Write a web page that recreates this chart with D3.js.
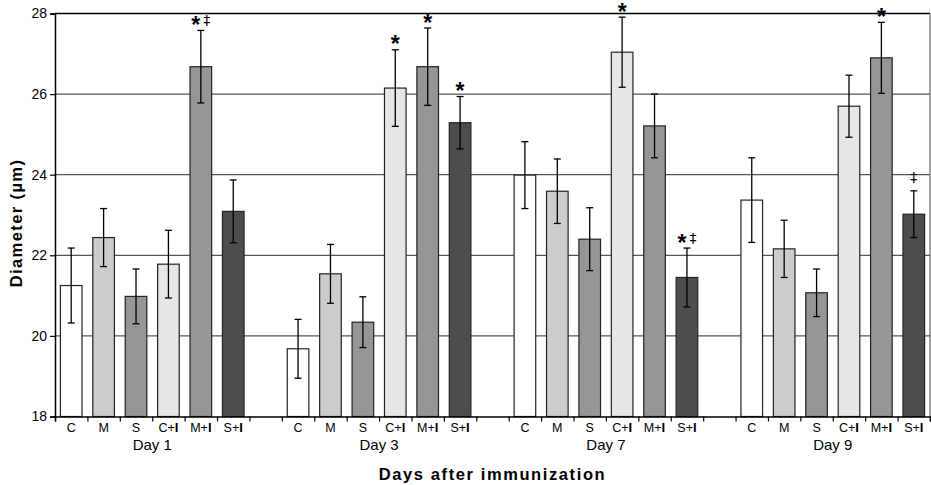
<!DOCTYPE html>
<html>
<head>
<meta charset="utf-8">
<script src="https://cdn.jsdelivr.net/npm/d3@7/dist/d3.min.js"></script>
<style>
body { margin: 0; background: #fff; }
text { font-family: "Liberation Sans", Arial, sans-serif; }
</style>
</head>
<body>
<div id="chart"></div>
<script>
// values
var days = ["Day 1", "Day 3", "Day 7", "Day 9"]
var groups = ["C", "M", "S", "C+I", "M+I", "S+I"]
var groupFill = ["#ffffff", "#cccccc", "#969696", "#e6e6e6", "#969696", "#4d4d4d"]

var meanDay1 = [21.25, 22.44, 20.98, 21.78, 26.68, 23.09]
var meanDay3 = [19.68, 21.54, 20.34, 26.15, 26.68, 25.29]
var meanDay7 = [23.99, 23.59, 22.40, 27.04, 25.21, 21.45]
var meanDay9 = [23.37, 22.16, 21.07, 25.70, 26.90, 23.02]

var errDay1 = [0.93, 0.72, 0.68, 0.84, 0.90, 0.78]
var errDay3 = [0.73, 0.73, 0.63, 0.95, 0.96, 0.65]
var errDay7 = [0.83, 0.80, 0.78, 0.87, 0.79, 0.73]
var errDay9 = [1.05, 0.71, 0.59, 0.77, 0.88, 0.58]

var yTicks = [18, 20, 22, 24, 26, 28]

// significance marks: [day, group, star, dagger]
var marks = [
    ["Day 1", "M+I", true, true],
    ["Day 3", "C+I", true, false],
    ["Day 3", "M+I", true, false],
    ["Day 3", "S+I", true, false],
    ["Day 7", "C+I", true, false],
    ["Day 7", "S+I", true, true],
    ["Day 9", "M+I", true, false],
    ["Day 9", "S+I", false, true]
]

var means = [meanDay1, meanDay3, meanDay7, meanDay9]
var errs = [errDay1, errDay3, errDay7, errDay9]

var W = 931, H = 485
var margin = {top: 13.5, right: 1, bottom: 68.5, left: 55}
var width = W - margin.left - margin.right
var height = H - margin.top - margin.bottom

var svg = d3.select("#chart").append("svg")
    .attr("width", W)
    .attr("height", H)

svg.append("rect").attr("width", W).attr("height", H).style("fill", "white")

var g = svg.append("g")
    .attr("transform", "translate(" + margin.left + "," + margin.top + ")")

// 6 bars per day + an empty slot between days
var nSlots = days.length * 7 - 1
var x = d3.scaleBand().domain(d3.range(nSlots)).range([0, width]).padding(0)
var xEdge = d3.scaleLinear().domain([0, nSlots]).range([0, width])
var y = d3.scaleLinear().domain([18, 28]).range([height, 0])

var barW = x.bandwidth() / 1.5

var data = []
days.forEach(function(d, i) {
    groups.forEach(function(grp, j) {
        data.push({day: d, group: grp, slot: i * 7 + j, mean: means[i][j], err: errs[i][j], fill: groupFill[j]})
    })
})

// gridlines
g.append("g").selectAll("line")
    .data(yTicks.filter(function(t) { return t > 18 && t < 28 }))
    .enter().append("line")
    .attr("x1", 0).attr("x2", width)
    .attr("y1", function(d) { return y(d) }).attr("y2", function(d) { return y(d) })
    .style("stroke", "#555").style("stroke-width", 1.2)

// frame: top and right
g.append("line").attr("x1", 0).attr("x2", width).attr("y1", y(28)).attr("y2", y(28))
    .style("stroke", "#000").style("stroke-width", 1.5)
g.append("line").attr("x1", width).attr("x2", width).attr("y1", y(28)).attr("y2", y(18))
    .style("stroke", "#666").style("stroke-width", 1.2)

// bars
g.append("g").selectAll("rect")
    .data(data)
    .enter().append("rect")
    .attr("x", function(d) { return x(d.slot) + (x.bandwidth() - barW) / 2 })
    .attr("y", function(d) { return y(d.mean) })
    .attr("width", barW)
    .attr("height", function(d) { return y(18) - y(d.mean) })
    .style("fill", function(d) { return d.fill })
    .style("stroke", "#222")
    .style("stroke-width", 1.2)

// error bars
var eb = g.append("g").selectAll("g")
    .data(data)
    .enter().append("g")
    .attr("transform", function(d) { return "translate(" + (x(d.slot) + x.bandwidth() / 2) + ",0)" })
eb.append("line")
    .attr("y1", function(d) { return y(d.mean - d.err) })
    .attr("y2", function(d) { return y(d.mean + d.err) })
    .style("stroke", "#000").style("stroke-width", 1.3)
eb.append("line")
    .attr("x1", -3.5).attr("x2", 3.5)
    .attr("y1", function(d) { return y(d.mean + d.err) })
    .attr("y2", function(d) { return y(d.mean + d.err) })
    .style("stroke", "#000").style("stroke-width", 1.3)
eb.append("line")
    .attr("x1", -3.5).attr("x2", 3.5)
    .attr("y1", function(d) { return y(d.mean - d.err) })
    .attr("y2", function(d) { return y(d.mean - d.err) })
    .style("stroke", "#000").style("stroke-width", 1.3)

// significance marks
marks.forEach(function(m) {
    var d = data.find(function(e) { return e.day == m[0] && e.group == m[1] })
    var top = y(d.mean + d.err)
    var t = g.append("text")
        .attr("x", x(d.slot) + x.bandwidth() / 2)
        .attr("y", top + 2.5)
        .attr("text-anchor", "middle")
        .style("fill", "#000")
    if (m[2]) {
        t.append("tspan").text("*")
            .style("font-size", "23px").style("font-weight", "bold").style("fill", "#000")
    }
    if (m[3]) {
        t.append("tspan")
            .attr("dx", m[2] ? 3 : 0)
            .attr("dy", m[2] ? -8 : -11)
            .text("\u2021")
            .style("font-size", "14px").style("fill", "#000")
            .style("font-family", "DejaVu Sans, sans-serif")
    }
})

// y axis
var yAxis = g.append("g")
    .call(d3.axisLeft(y).tickValues(yTicks).tickSize(5).tickPadding(3).tickFormat(d3.format("d")))
yAxis.select(".domain").style("stroke", "#000").style("stroke-width", 1.5)
yAxis.selectAll(".tick line").style("stroke", "#000").style("stroke-width", 1.2)
yAxis.selectAll("text").style("font-size", "14px").style("font-family", "Liberation Sans, Arial, sans-serif").style("fill", "#000")

// x axis: ticks on slot boundaries
var xAxis = g.append("g")
    .attr("transform", "translate(0," + height + ")")
    .call(d3.axisBottom(xEdge).tickValues(d3.range(nSlots + 1)).tickSize(5).tickFormat(""))
xAxis.select(".domain").style("stroke", "#000").style("stroke-width", 1.5)
xAxis.selectAll(".tick line").style("stroke", "#000").style("stroke-width", 1.2)

// group labels under each bar (the "I" prints heavy in the figure)
var lab = g.append("g").selectAll("text")
    .data(data)
    .enter().append("text")
    .attr("x", function(d) { return x(d.slot) + x.bandwidth() / 2 })
    .attr("y", height + 15)
    .attr("text-anchor", "middle")
    .style("font-size", "12.5px")
    .style("fill", "#000")
lab.append("tspan").text(function(d) { return d.group.replace("I", "") })
lab.append("tspan").style("font-weight", "bold").style("font-size", "13px")
    .text(function(d) { return d.group.indexOf("I") >= 0 ? "I" : "" })

// day labels
g.append("g").selectAll("text")
    .data(days)
    .enter().append("text")
    .attr("x", function(d, i) { return xEdge(i * 7 + 3) })
    .attr("y", height + 33)
    .attr("text-anchor", "middle")
    .style("font-size", "15px")
    .style("fill", "#000")
    .text(function(d) { return d })

// axis titles
svg.append("text")
    .attr("transform", "translate(22," + (margin.top + height / 2 + 8) + ") rotate(-90)")
    .attr("text-anchor", "middle")
    .style("font-size", "16.5px")
    .style("font-weight", "bold")
    .style("letter-spacing", "1.4px")
    .text("Diameter (\u00b5m)")

svg.append("text")
    .attr("x", margin.left + width / 2)
    .attr("y", 480)
    .attr("text-anchor", "middle")
    .style("font-size", "16.5px")
    .style("font-weight", "bold")
    .style("letter-spacing", "1.6px")
    .text("Days after immunization")
</script>
</body>
</html>
